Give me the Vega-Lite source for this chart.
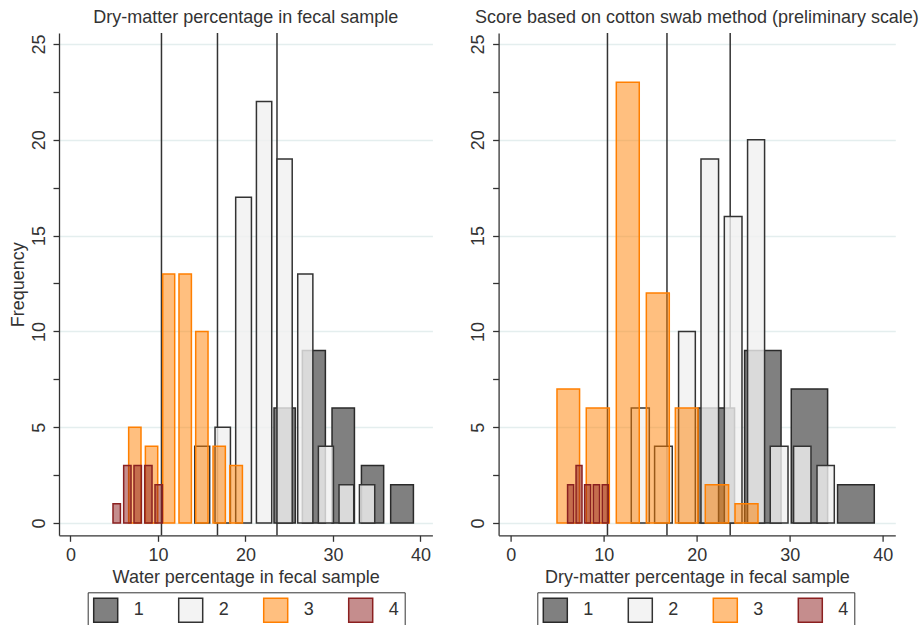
{
  "$schema": "https://vega.github.io/schema/vega-lite/v6.json",
  "background": "white",
  "padding": {"left": 9, "top": 9, "right": 5, "bottom": 0},
  "datasets": {
    "bars": [
      {"panel": "left", "g": "1", "lo": 23.26, "hi": 25.70, "n": 6},
      {"panel": "left", "g": "1", "lo": 26.50, "hi": 29.13, "n": 9},
      {"panel": "left", "g": "1", "lo": 29.89, "hi": 32.45, "n": 6},
      {"panel": "left", "g": "1", "lo": 33.25, "hi": 35.79, "n": 3},
      {"panel": "left", "g": "1", "lo": 36.59, "hi": 39.19, "n": 2},
      {"panel": "left", "g": "2", "lo": 14.20, "hi": 15.91, "n": 4},
      {"panel": "left", "g": "2", "lo": 16.52, "hi": 18.28, "n": 5},
      {"panel": "left", "g": "2", "lo": 18.88, "hi": 20.68, "n": 17},
      {"panel": "left", "g": "2", "lo": 21.25, "hi": 23.00, "n": 22},
      {"panel": "left", "g": "2", "lo": 23.60, "hi": 25.34, "n": 19},
      {"panel": "left", "g": "2", "lo": 25.97, "hi": 27.70, "n": 13},
      {"panel": "left", "g": "2", "lo": 28.33, "hi": 30.05, "n": 4},
      {"panel": "left", "g": "2", "lo": 30.69, "hi": 32.37, "n": 2},
      {"panel": "left", "g": "2", "lo": 33.02, "hi": 34.77, "n": 2},
      {"panel": "left", "g": "3", "lo": 6.65, "hi": 8.06, "n": 5},
      {"panel": "left", "g": "3", "lo": 8.56, "hi": 9.97, "n": 4},
      {"panel": "left", "g": "3", "lo": 10.54, "hi": 11.91, "n": 13},
      {"panel": "left", "g": "3", "lo": 12.40, "hi": 13.82, "n": 13},
      {"panel": "left", "g": "3", "lo": 14.31, "hi": 15.72, "n": 10},
      {"panel": "left", "g": "3", "lo": 16.29, "hi": 17.70, "n": 4},
      {"panel": "left", "g": "3", "lo": 18.20, "hi": 19.65, "n": 3},
      {"panel": "left", "g": "4", "lo": 4.86, "hi": 5.71, "n": 1},
      {"panel": "left", "g": "4", "lo": 6.08, "hi": 6.92, "n": 3},
      {"panel": "left", "g": "4", "lo": 7.26, "hi": 8.11, "n": 3},
      {"panel": "left", "g": "4", "lo": 8.48, "hi": 9.32, "n": 3},
      {"panel": "left", "g": "4", "lo": 9.66, "hi": 10.51, "n": 2},
      {"panel": "right", "g": "1", "lo": 20.15, "hi": 24.07, "n": 6},
      {"panel": "right", "g": "1", "lo": 25.15, "hi": 29.07, "n": 9},
      {"panel": "right", "g": "1", "lo": 30.17, "hi": 34.08, "n": 7},
      {"panel": "right", "g": "1", "lo": 35.15, "hi": 39.10, "n": 2},
      {"panel": "right", "g": "2", "lo": 12.96, "hi": 14.90, "n": 6},
      {"panel": "right", "g": "2", "lo": 15.47, "hi": 17.37, "n": 4},
      {"panel": "right", "g": "2", "lo": 18.05, "hi": 19.85, "n": 10},
      {"panel": "right", "g": "2", "lo": 20.46, "hi": 22.35, "n": 19},
      {"panel": "right", "g": "2", "lo": 22.97, "hi": 24.87, "n": 16},
      {"panel": "right", "g": "2", "lo": 25.47, "hi": 27.30, "n": 20},
      {"panel": "right", "g": "2", "lo": 27.91, "hi": 29.82, "n": 4},
      {"panel": "right", "g": "2", "lo": 30.42, "hi": 32.29, "n": 4},
      {"panel": "right", "g": "2", "lo": 32.94, "hi": 34.80, "n": 3},
      {"panel": "right", "g": "3", "lo": 4.97, "hi": 7.40, "n": 7},
      {"panel": "right", "g": "3", "lo": 8.12, "hi": 10.60, "n": 6},
      {"panel": "right", "g": "3", "lo": 11.35, "hi": 13.82, "n": 23},
      {"panel": "right", "g": "3", "lo": 14.58, "hi": 17.05, "n": 12},
      {"panel": "right", "g": "3", "lo": 17.70, "hi": 20.14, "n": 6},
      {"panel": "right", "g": "3", "lo": 20.92, "hi": 23.43, "n": 2},
      {"panel": "right", "g": "3", "lo": 24.12, "hi": 26.59, "n": 1},
      {"panel": "right", "g": "4", "lo": 6.11, "hi": 6.76, "n": 2},
      {"panel": "right", "g": "4", "lo": 7.02, "hi": 7.66, "n": 3},
      {"panel": "right", "g": "4", "lo": 7.94, "hi": 8.59, "n": 2},
      {"panel": "right", "g": "4", "lo": 8.88, "hi": 9.55, "n": 2},
      {"panel": "right", "g": "4", "lo": 9.84, "hi": 10.49, "n": 2}
    ],
    "cuts": [
      {"v": 10.4},
      {"v": 16.8},
      {"v": 23.6}
    ]
  },
  "config": {
    "font": "Liberation Sans",
    "view": {"stroke": null},
    "axis": {
      "labelFont": "Liberation Sans",
      "titleFont": "Liberation Sans",
      "labelFontSize": 18,
      "titleFontSize": 18,
      "titleFontWeight": "normal",
      "labelColor": "#333333",
      "titleColor": "#333333",
      "domainColor": "#333333",
      "tickColor": "#333333",
      "domainWidth": 1.3,
      "tickWidth": 1.3
    },
    "title": {"font": "Liberation Sans", "fontSize": 18, "fontWeight": "normal", "color": "#333333", "offset": 5, "anchor": "middle"},
    "legend": {"labelFont": "Liberation Sans"}
  },
  "bounds": "flush",
  "spacing": 65.6,
  "resolve": {
    "scale": {"x": "independent", "y": "independent", "fill": "independent", "stroke": "independent"},
    "legend": {"fill": "independent", "stroke": "independent"}
  },
  "hconcat": [
    {
      "width": 373.4,
      "height": 502.3,
      "title": "Dry-matter percentage in fecal sample",
      "layer": [
        {
          "data": {"name": "cuts"},
          "mark": {"type": "rule", "color": "#333333", "strokeWidth": 1.5},
          "encoding": {
            "x": {"field": "v", "type": "quantitative", "scale": {"domain": [-1.31, 41.36], "nice": false, "zero": false},
              "axis": {"title": "Water percentage in fecal sample", "values": [0, 10, 20, 30, 40], "grid": false, "tickSize": 6, "labelPadding": 5, "titlePadding": 4}}
          }
        },
        {
          "data": {"name": "bars"},
          "transform": [{"filter": "datum.panel === 'left'"}],
          "mark": {"type": "bar", "strokeWidth": 1.5},
          "encoding": {
            "x": {"field": "lo", "type": "quantitative", "scale": {"domain": [-1.31, 41.36], "nice": false, "zero": false},
              "axis": {"title": "Water percentage in fecal sample", "values": [0, 10, 20, 30, 40], "grid": false, "tickSize": 6, "labelPadding": 5, "titlePadding": 4}},
            "x2": {"field": "hi"},
            "y": {"field": "n", "type": "quantitative", "stack": null, "scale": {"domain": [-0.64, 25.57], "nice": false, "zero": false},
              "axis": {"title": "Frequency", "values": [0, 2.5, 5, 7.5, 10, 12.5, 15, 17.5, 20, 22.5, 25],
                "labelExpr": "datum.value % 5 === 0 ? datum.label : ''", "labelAngle": -90, "labelAlign": "center", "labelBaseline": "middle",
                "labelPadding": 14, "tickSize": 6, "grid": true,
                "gridColor": {"condition": {"test": "datum.value % 5 === 0", "value": "#e4eeee"}, "value": "rgba(0,0,0,0)"},
                "gridWidth": 1.5, "titlePadding": 3}},
            "y2": {"datum": 0},
            "fill": {"field": "g", "type": "nominal",
              "scale": {"domain": ["1", "2", "3", "4"], "range": ["#808080", "rgba(240,240,240,0.8)", "rgba(255,127,0,0.5)", "rgba(139,28,28,0.5)"]},
              "legend": {"orient": "none", "legendX": 28.7, "legendY": 559.3, "direction": "horizontal", "columns": 4, "title": null,
                "symbolType": "square", "symbolSize": 576, "symbolStrokeWidth": 1.5, "labelFontSize": 18, "labelColor": "#333333",
                "labelOffset": 15, "columnPadding": 31, "strokeColor": "#333333", "padding": 5}},
            "stroke": {"field": "g", "type": "nominal",
              "scale": {"domain": ["1", "2", "3", "4"], "range": ["#2a2a2a", "#333333", "#ff7f00", "#8b2020"]},
              "legend": {"orient": "none", "legendX": 28.7, "legendY": 559.3, "direction": "horizontal", "columns": 4, "title": null,
                "symbolType": "square", "symbolSize": 576, "symbolStrokeWidth": 1.5, "labelFontSize": 18, "labelColor": "#333333",
                "labelOffset": 15, "columnPadding": 31, "strokeColor": "#333333", "padding": 5}}
          }
        }
      ]
    },
    {
      "width": 396.7,
      "height": 502.3,
      "title": "Score based on cotton swab method (preliminary scale)",
      "layer": [
        {
          "data": {"name": "cuts"},
          "mark": {"type": "rule", "color": "#333333", "strokeWidth": 1.5},
          "encoding": {
            "x": {"field": "v", "type": "quantitative", "scale": {"domain": [-1.31, 41.36], "nice": false, "zero": false},
              "axis": {"title": "Dry-matter percentage in fecal sample", "values": [0, 10, 20, 30, 40], "grid": false, "tickSize": 6, "labelPadding": 5, "titlePadding": 4}}
          }
        },
        {
          "data": {"name": "bars"},
          "transform": [{"filter": "datum.panel === 'right'"}],
          "mark": {"type": "bar", "strokeWidth": 1.5},
          "encoding": {
            "x": {"field": "lo", "type": "quantitative", "scale": {"domain": [-1.31, 41.36], "nice": false, "zero": false},
              "axis": {"title": "Dry-matter percentage in fecal sample", "values": [0, 10, 20, 30, 40], "grid": false, "tickSize": 6, "labelPadding": 5, "titlePadding": 4}},
            "x2": {"field": "hi"},
            "y": {"field": "n", "type": "quantitative", "stack": null, "scale": {"domain": [-0.64, 25.57], "nice": false, "zero": false},
              "axis": {"title": null, "values": [0, 2.5, 5, 7.5, 10, 12.5, 15, 17.5, 20, 22.5, 25],
                "labelExpr": "datum.value % 5 === 0 ? datum.label : ''", "labelAngle": -90, "labelAlign": "center", "labelBaseline": "middle",
                "labelPadding": 14, "tickSize": 6, "grid": true,
                "gridColor": {"condition": {"test": "datum.value % 5 === 0", "value": "#e4eeee"}, "value": "rgba(0,0,0,0)"},
                "gridWidth": 1.5}},
            "y2": {"datum": 0},
            "fill": {"field": "g", "type": "nominal",
              "scale": {"domain": ["1", "2", "3", "4"], "range": ["#808080", "rgba(240,240,240,0.8)", "rgba(255,127,0,0.5)", "rgba(139,28,28,0.5)"]},
              "legend": {"orient": "none", "legendX": 38.7, "legendY": 559.3, "direction": "horizontal", "columns": 4, "title": null,
                "symbolType": "square", "symbolSize": 576, "symbolStrokeWidth": 1.5, "labelFontSize": 18, "labelColor": "#333333",
                "labelOffset": 15, "columnPadding": 31, "strokeColor": "#333333", "padding": 5}},
            "stroke": {"field": "g", "type": "nominal",
              "scale": {"domain": ["1", "2", "3", "4"], "range": ["#2a2a2a", "#333333", "#ff7f00", "#8b2020"]},
              "legend": {"orient": "none", "legendX": 38.7, "legendY": 559.3, "direction": "horizontal", "columns": 4, "title": null,
                "symbolType": "square", "symbolSize": 576, "symbolStrokeWidth": 1.5, "labelFontSize": 18, "labelColor": "#333333",
                "labelOffset": 15, "columnPadding": 31, "strokeColor": "#333333", "padding": 5}}
          }
        }
      ]
    }
  ]
}
